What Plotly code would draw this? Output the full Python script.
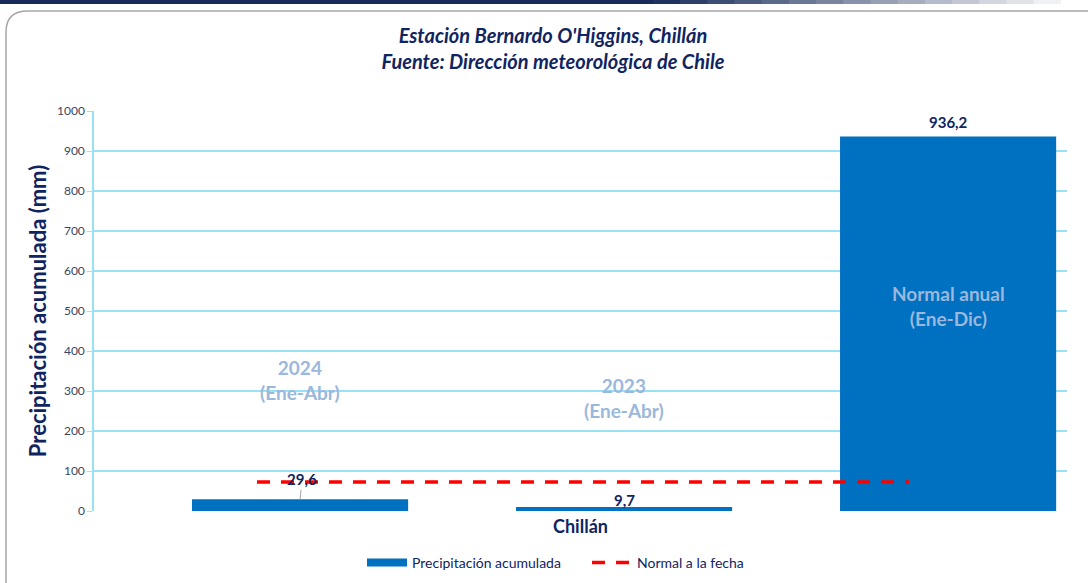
import plotly.graph_objects as go

# ---- data ----
bar_names = ["2024<br>(Ene-Abr)", "2023<br>(Ene-Abr)", "Normal anual<br>(Ene-Dic)"]
bar_pos = [0, 1, 2]
bar_values = [29.6, 9.7, 936.2]
normal_x = [-0.133, 1.88]
normal_values = [72.5, 72.5]
category_label = "Chillán"
y_ticks = [0, 100, 200, 300, 400, 500, 600, 700, 800, 900, 1000]

# ---- layout helpers (pixel -> paper) ----
L, R, T, B = 94, 1067, 111, 511
W, H = 1088, 583
def X(px):
    return (px - L) / (R - L)
def Y(py):
    return (B - py) / (B - T)

FONT = "Lato"
NAVY = "#0f2461"
GRID = "#98e2f6"
BLUE = "#0070c0"
LIGHT = "#9bb7dc"

def fmt(v):
    return f"{v:.1f}".replace(".", ",")

fig = go.Figure()
fig.add_trace(go.Bar(
    x=bar_pos, y=bar_values, width=0.667, marker=dict(color=BLUE, line=dict(width=0)),
    name="Precipitación acumulada", hoverinfo="y", showlegend=False,
))
# legend entry for the bars (wide flat swatch like the original)
fig.add_trace(go.Scatter(
    x=[None], y=[None], mode="lines", line=dict(color=BLUE, width=8),
    name="Precipitación acumulada", legend="legend",
))
fig.add_trace(go.Scatter(
    x=normal_x, y=normal_values, mode="lines",
    line=dict(color="#ff0000", width=3.5, dash="13px,11px"),
    name="Normal a la fecha", legend="legend2",
))

xr = [-0.636, 2.367]
annotations = []
# value labels
label_arrow = [True, False, False]
label_shift = [0, 7, 15]
for xv, v, arr, sh in zip(bar_pos, bar_values, label_arrow, label_shift):
    annotations.append(dict(
        x=xv, y=v, xref="x", yref="y", text=f"<b>{fmt(v)}</b>",
        showarrow=arr, arrowhead=0, arrowwidth=1, arrowcolor="#a6a6a6",
        ax=2, ay=-20, standoff=0, yshift=sh,
        font=dict(family=FONT, size=15, color=NAVY), yanchor="middle",
    ))
# inner category labels
name_y = [327, 282, 512]
for xv, nm, yy in zip(bar_pos, bar_names, name_y):
    annotations.append(dict(
        x=xv, y=yy, xref="x", yref="y", text=f"<b>{nm}</b>", showarrow=False,
        font=dict(family=FONT, size=19, color=LIGHT), align="center",
    ))

# decorative frame shapes
shapes = []
n = 40
c0 = (0x17, 0x2b, 0x5a)
for i in range(n):
    t = i / (n - 1)
    f = min(1.0, max(0.0, (t - 0.6) / 0.4))
    col = tuple(int(c + (255 - c) * f) for c in c0)
    shapes.append(dict(type="rect", xref="paper", yref="paper",
                       x0=X(W * i / n), x1=X(W * (i + 1) / n + 1), y0=Y(4), y1=Y(0),
                       fillcolor="rgb(%d,%d,%d)" % col, line=dict(width=0), layer="below"))
path = (f"M {X(6)} {Y(600)} L {X(6)} {Y(32)} "
        f"Q {X(6)} {Y(11)} {X(28)} {Y(11)} L {X(1100)} {Y(11)}")
shapes.append(dict(type="path", xref="paper", yref="paper", path=path,
                   line=dict(color="#a6a6a6", width=1.5), layer="below"))

legend_font = dict(family=FONT, size=14, color=NAVY)
fig.update_layout(
    width=W, height=H,
    margin=dict(l=L, r=W - R, t=T, b=H - B, autoexpand=False),
    paper_bgcolor="white", plot_bgcolor="white",
    font=dict(family=FONT, color=NAVY),
    title=dict(
        text="<b><i>Estación Bernardo O'Higgins, Chillán<br>Fuente: Dirección meteorológica de Chile</i></b>",
        x=X(553), xref="paper", xanchor="center", y=1 - 43 / H, yanchor="middle",
        font=dict(family=FONT, size=20, color=NAVY),
    ),
    xaxis=dict(range=xr, tickvals=[sum(xr) / 2], ticktext=[f"<b>{category_label}</b>"],
               tickfont=dict(family=FONT, size=18, color=NAVY), showgrid=False,
               zeroline=False, showline=False, ticks="", automargin=False,
               ticklabelstandoff=3),
    yaxis=dict(range=[0, 1000], tickvals=y_ticks, showgrid=True, gridcolor=GRID, gridwidth=1.5,
               showline=True, linecolor=GRID, linewidth=1.5, ticks="outside", ticklen=5,
               tickcolor=GRID, zeroline=False, automargin=False,
               tickfont=dict(family=FONT, size=12, color="#3a4560"),
               title=dict(text="<b>Precipitación acumulada (mm)</b>", standoff=4,
                          font=dict(family=FONT, size=22, color=NAVY))),
    showlegend=True,
    legend=dict(orientation="h", x=X(362), xanchor="left", y=Y(563), yanchor="middle",
                font=legend_font, itemwidth=40),
    legend2=dict(orientation="h", x=X(587), xanchor="left", y=Y(563), yanchor="middle",
                 font=legend_font, itemwidth=40),
    annotations=annotations,
    shapes=shapes,
)

fig.write_html("out.html")
